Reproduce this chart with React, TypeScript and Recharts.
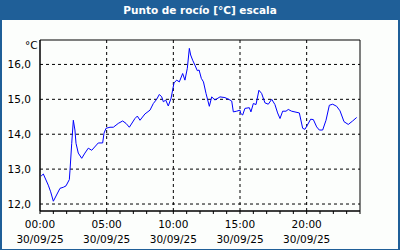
import { LineChart, Line, XAxis, YAxis, CartesianGrid, ReferenceArea } from "recharts";

// hora del día (0-24) y punto de rocío en °C
const HOURS = [
  0.08, 0.25, 0.62, 0.8, 1.0, 1.5, 1.75, 1.95, 2.2, 2.25, 2.38, 2.5, 2.62, 2.7, 2.87, 3.13, 3.37, 3.62, 3.88,
  4.37, 4.7, 4.8, 4.95, 5.25, 5.5, 5.87, 6.2, 6.45, 6.7, 7.12, 7.3, 7.5, 7.87, 8.25, 8.5, 8.75, 8.95, 9.13,
  9.25, 9.43, 9.62, 9.83, 10.05, 10.25, 10.45, 10.7, 10.87, 11.05, 11.2, 11.3, 11.45, 11.62, 11.8, 11.93,
  12.1, 12.26, 12.45, 12.7, 12.88, 13.12, 13.5, 13.87, 14.25, 14.38, 14.5, 14.75, 15.0, 15.05, 15.2, 15.37,
  15.7, 15.82, 16.0, 16.2, 16.42, 16.62, 16.87, 17.12, 17.38, 17.62, 17.82, 18.0, 18.2, 18.45, 18.62, 18.87,
  19.45, 19.7, 19.87, 20.05, 20.3, 20.5, 20.75, 20.95, 21.2, 21.45, 21.7, 21.95, 22.25, 22.5, 22.8, 23.12,
  23.45, 23.75,
];
const DEW_POINT = [
  12.8, 12.86, 12.54, 12.35, 12.08, 12.45, 12.48, 12.52, 12.7, 12.97, 13.74, 14.4, 14.12, 13.74, 13.46, 13.31,
  13.46, 13.6, 13.54, 13.75, 13.75, 14.03, 14.17, 14.2, 14.2, 14.31, 14.38, 14.31, 14.2, 14.45, 14.52, 14.4,
  14.58, 14.69, 14.88, 15.0, 15.14, 15.07, 14.93, 14.98, 14.81, 15.03, 15.47, 15.55, 15.5, 15.74, 15.55, 15.89,
  16.46, 16.27, 16.12, 15.98, 15.82, 15.84, 15.6, 15.5, 15.17, 14.8, 15.07, 14.98, 15.07, 15.05, 14.98, 14.95,
  14.64, 14.66, 14.69, 14.6, 14.55, 14.74, 14.76, 14.64, 14.88, 14.85, 15.26, 15.17, 14.9, 14.86, 15.0, 14.85,
  14.61, 14.45, 14.66, 14.66, 14.71, 14.66, 14.61, 14.17, 14.14, 14.26, 14.43, 14.42, 14.21, 14.12, 14.12, 14.4,
  14.83, 14.86, 14.8, 14.67, 14.36, 14.28, 14.38, 14.48,
];
const X_TICKS = Array.from({ length: 25 }, (_, i) => i);
const Y_TICKS = [12, 13, 14, 15, 16];
const DATE_LABEL = "30/09/25";

const data = HOURS.map((h, i) => ({ h, v: DEW_POINT[i] }));

const FONT = "'DejaVu Sans', Verdana, sans-serif";

function XTick({ x, y, payload }: any) {
  if (payload.value % 5 !== 0) return null;
  const hh = String(payload.value).padStart(2, "0") + ":00";
  return (
    <g fontFamily={FONT} fontSize={10.5} fill="#000">
      <text x={x} y={y + 12} textAnchor="middle">{hh}</text>
      <text x={x} y={y + 27} textAnchor="middle">{DATE_LABEL}</text>
    </g>
  );
}

export default function App() {
  return (
    <div style={{ position: "absolute", left: 0, top: 0, width: 400, height: 250, background: "#1f5f98" }}>
      <div
        style={{
          position: "absolute", left: 0, top: 0, width: 400, height: 20, lineHeight: "20px",
          textAlign: "center", color: "#fff", fontFamily: FONT, fontWeight: "bold", fontSize: 10.5,
        }}
      >
        Punto de rocío [°C] escala
      </div>
      <div style={{ position: "absolute", left: 2, top: 20, width: 396, height: 229, background: "#fcfefc" }} />
      <div style={{ position: "absolute", left: 25, top: 39, fontFamily: FONT, fontSize: 10.5, color: "#000" }}>°C</div>
      <div style={{ position: "absolute", left: 0, top: 0 }}>
        <LineChart width={400} height={250} data={data} margin={{ top: 40, right: 40, left: 0, bottom: 0 }}>
          <CartesianGrid stroke="#000" strokeDasharray="3 3" verticalValues={[5, 10, 15, 20]} horizontalValues={Y_TICKS} />
          <XAxis
            dataKey="h" type="number" domain={[0, 24]} ticks={X_TICKS} interval={0} height={39}
            stroke="#000" tickSize={3} tickMargin={2} tick={<XTick />}
          />
          <YAxis
            type="number" domain={[11.8, 16.7]} ticks={Y_TICKS} width={40} stroke="#000"
            tickLine={false} tickMargin={3}
            tick={{ fontFamily: FONT, fontSize: 10.5, fill: "#000" }}
            tickFormatter={(v: number) => v.toFixed(1).replace(".", ",")}
          />
          <ReferenceArea x1={0} x2={24} y1={11.8} y2={16.7} fill="none" stroke="#000" strokeWidth={1} ifOverflow="visible" />
          <Line type="linear" dataKey="v" stroke="#0000ff" strokeWidth={1} dot={false} isAnimationActive={false} />
        </LineChart>
      </div>
    </div>
  );
}
